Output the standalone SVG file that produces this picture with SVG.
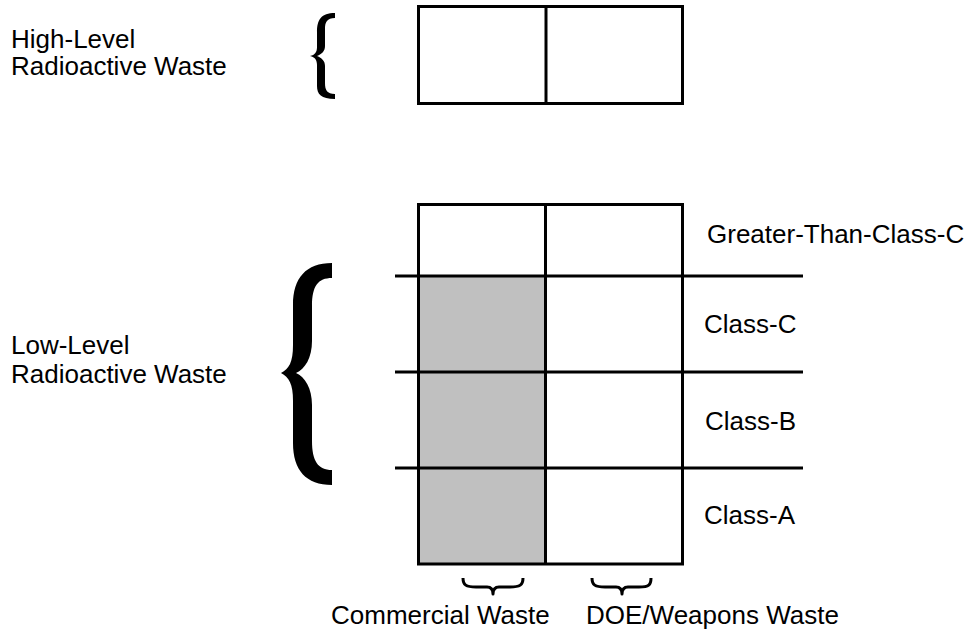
<svg xmlns="http://www.w3.org/2000/svg" width="977" height="633" viewBox="0 0 977 633">
<style>
.box{fill:none;stroke:#000;stroke-width:3}
.ln{stroke:#000;stroke-width:3;fill:none}
.shade{fill:#c0c0c0}
.lbl{font-family:"Liberation Sans",Arial,Helvetica,sans-serif;font-size:26px;fill:#000}
.brace{fill:#000}
.hbrace{fill:none;stroke:#000;stroke-width:3;stroke-linejoin:round}
</style>
<rect width="977" height="633" fill="#fff"/>

<g id="high-level-waste">
  <rect class="box" x="418.5" y="6.5" width="264" height="97"/>
  <line class="ln" x1="546" y1="6.5" x2="546" y2="103.5"/>
</g>

<g id="low-level-waste">
  <rect class="shade" x="418.5" y="276" width="127" height="288"/>
  <line class="ln" x1="395" y1="276" x2="803" y2="276"/>
  <line class="ln" x1="395" y1="372" x2="803" y2="372"/>
  <line class="ln" x1="395" y1="468" x2="803" y2="468"/>
  <line class="ln" x1="545.5" y1="204.5" x2="545.5" y2="564"/>
  <rect class="box" x="418.5" y="204.5" width="264" height="359.5"/>
</g>

<g id="braces">
  <path class="brace" d="M335,13 C321,13 317,20 317,32 L317,47 C317,52 315,55 310,56 C315,57 317,60 317,65 L317,86 C317,94 321,99 335,99 L335,94 C327,94 325,90 325,83 L325,66 C325,61 322,58 317,56 C322,54 325,51 325,46 L325,29 C325,22 327,18 335,18 Z"/>
  <path class="brace" d="M332,263 C306,263 293,278 293,305 L293,345 C293,362 289,369 281,373 C289,377 293,384 293,401 L293,443 C293,470 306,485 332,485 L332,470 C318,470 312,461 312,441 L312,405 C312,388 305,377 296,373 C305,369 312,358 312,341 L312,306 C312,286 318,278 332,278 Z"/>
  <path class="hbrace" d="M463,578 C463,585 466,587 476,587 L487,587 C491,587 493,589 493,594 C493,589 495,587 499,587 L510,587 C520,587 523,585 523,578"/>
  <path class="hbrace" d="M592,578 C592,585 595,587 605,587 L616,587 C620,587 622,589 622,594 C622,589 624,587 628,587 L639,587 C649,587 651,585 651,578"/>
</g>

<g id="labels">
  <text class="lbl" x="11" y="48">High-Level</text>
  <text class="lbl" x="11" y="75">Radioactive Waste</text>
  <text class="lbl" x="11" y="354">Low-Level</text>
  <text class="lbl" x="11" y="383">Radioactive Waste</text>
  <text class="lbl" x="707" y="243">Greater-Than-Class-C</text>
  <text class="lbl" x="704" y="333">Class-C</text>
  <text class="lbl" x="705" y="430">Class-B</text>
  <text class="lbl" x="704" y="524">Class-A</text>
  <text class="lbl" x="331" y="624">Commercial Waste</text>
  <text class="lbl" x="586" y="624">DOE/Weapons Waste</text>
</g>
</svg>
